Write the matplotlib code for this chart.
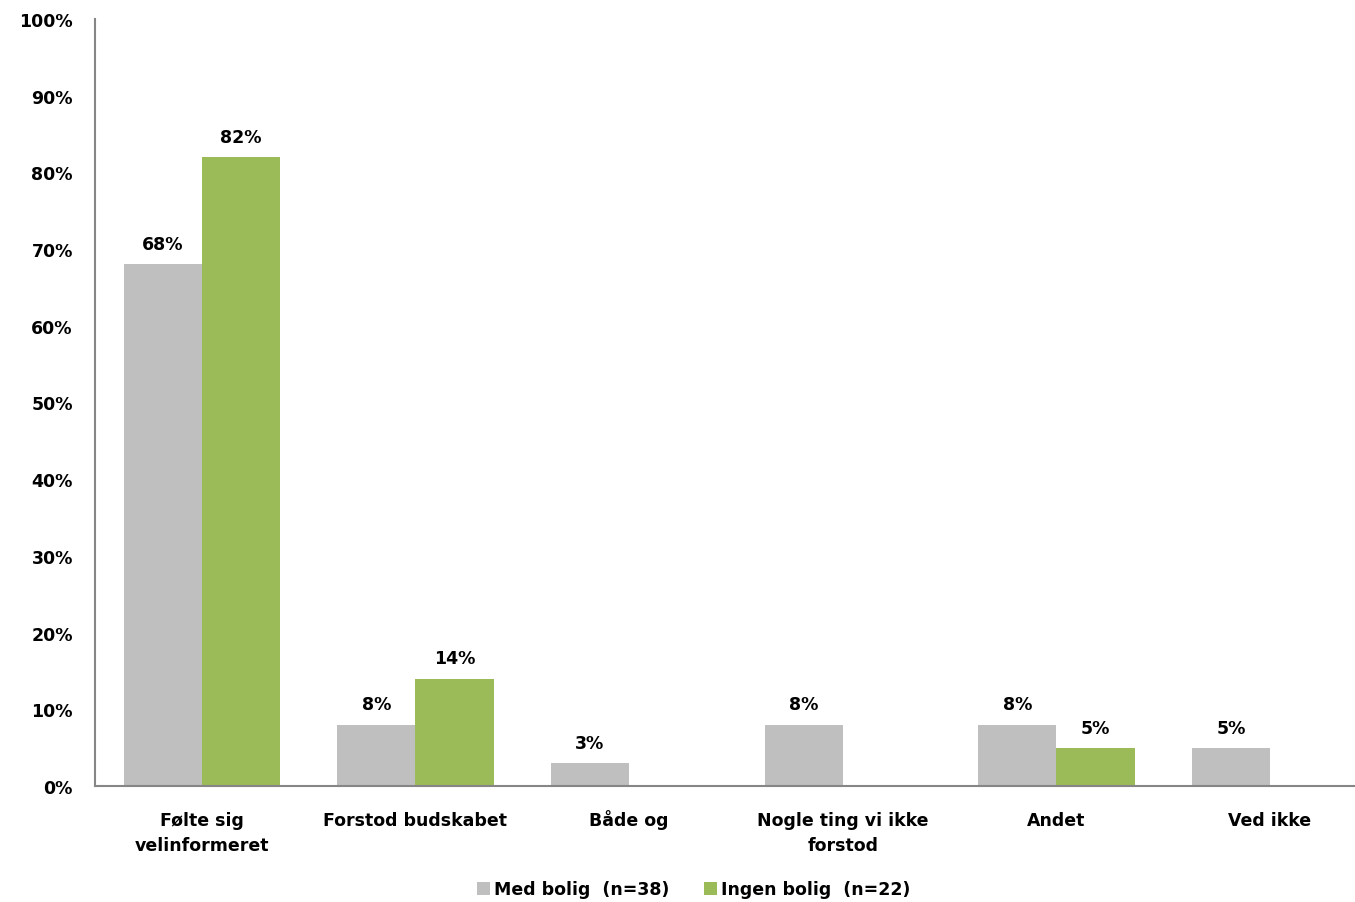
import matplotlib
matplotlib.use("Agg")
import matplotlib.pyplot as plt
import numpy as np

CATEGORIES = ["Følte sig\nvelinformeret", "Forstod budskabet", "Både og",
              "Nogle ting vi ikke\nforstod", "Andet", "Ved ikke"]
MED_BOLIG = [68, 8, 3, 8, 8, 5]
INGEN_BOLIG = [82, 14, 0, 0, 5, 0]
SERIES_LABELS = ["Med bolig  (n=38)", "Ingen bolig  (n=22)"]
Y_TICKS = list(range(0, 101, 10))

GRAY = "#bfbfbf"
GREEN = "#9bbb59"
SPINE = "#868686"
FS = 12.5

plt.rcParams["font.family"] = ["DejaVu Sans"]
plt.rcParams["font.weight"] = "bold"

fig = plt.figure(figsize=(13.55, 9.03), dpi=100)
# the plot area runs a bit past the right edge of the figure, as in the original
ax = fig.add_axes([0.0701, 0.1285, 0.946, 0.8494])

x = np.arange(len(CATEGORIES))
w = 0.366
bars_med = ax.bar(x - w / 2, MED_BOLIG, w, color=GRAY, label=SERIES_LABELS[0])
bars_ing = ax.bar(x + w / 2, INGEN_BOLIG, w, color=GREEN, label=SERIES_LABELS[1])

for bars, vals in ((bars_med, MED_BOLIG), (bars_ing, INGEN_BOLIG)):
    for b, v in zip(bars, vals):
        if v == 0:
            continue
        ax.annotate(f"{v}%", (b.get_x() + b.get_width() / 2, v),
                    xytext=(0, 8), textcoords="offset points",
                    ha="center", va="bottom", fontsize=FS, fontweight="bold")

ax.set_xlim(-0.5, len(CATEGORIES) - 0.5)
ax.set_ylim(0, 100)
ax.set_yticks(Y_TICKS)
ax.set_yticklabels([f"{t}%" for t in Y_TICKS], fontsize=FS, fontweight="bold")
ax.set_xticks(x)
ax.set_xticklabels([])
ax.tick_params(axis="y", length=0, pad=16)
ax.tick_params(axis="x", length=0)

# category names line by line on a common baseline, so "Både og" (ring
# accent) sits level with the others
for xi, cat in zip(x, CATEGORIES):
    for k, line in enumerate(cat.split("\n")):
        ax.annotate(line, (xi, 0), xycoords=("data", "axes fraction"),
                    xytext=(0, -28 - 18 * k), textcoords="offset points",
                    ha="center", va="baseline", fontsize=FS, fontweight="bold",
                    annotation_clip=False)

for side in ("top", "right"):
    ax.spines[side].set_visible(False)
for side in ("left", "bottom"):
    ax.spines[side].set_color(SPINE)
    ax.spines[side].set_linewidth(1.5)

fig.legend(loc="center", bbox_to_anchor=(0.512, 0.014), ncol=2, frameon=False,
           prop={"size": FS, "weight": "bold"}, handlelength=0.75,
           handleheight=0.75, handletextpad=0.25, columnspacing=2.0)

fig.savefig("out.png", dpi=100)
